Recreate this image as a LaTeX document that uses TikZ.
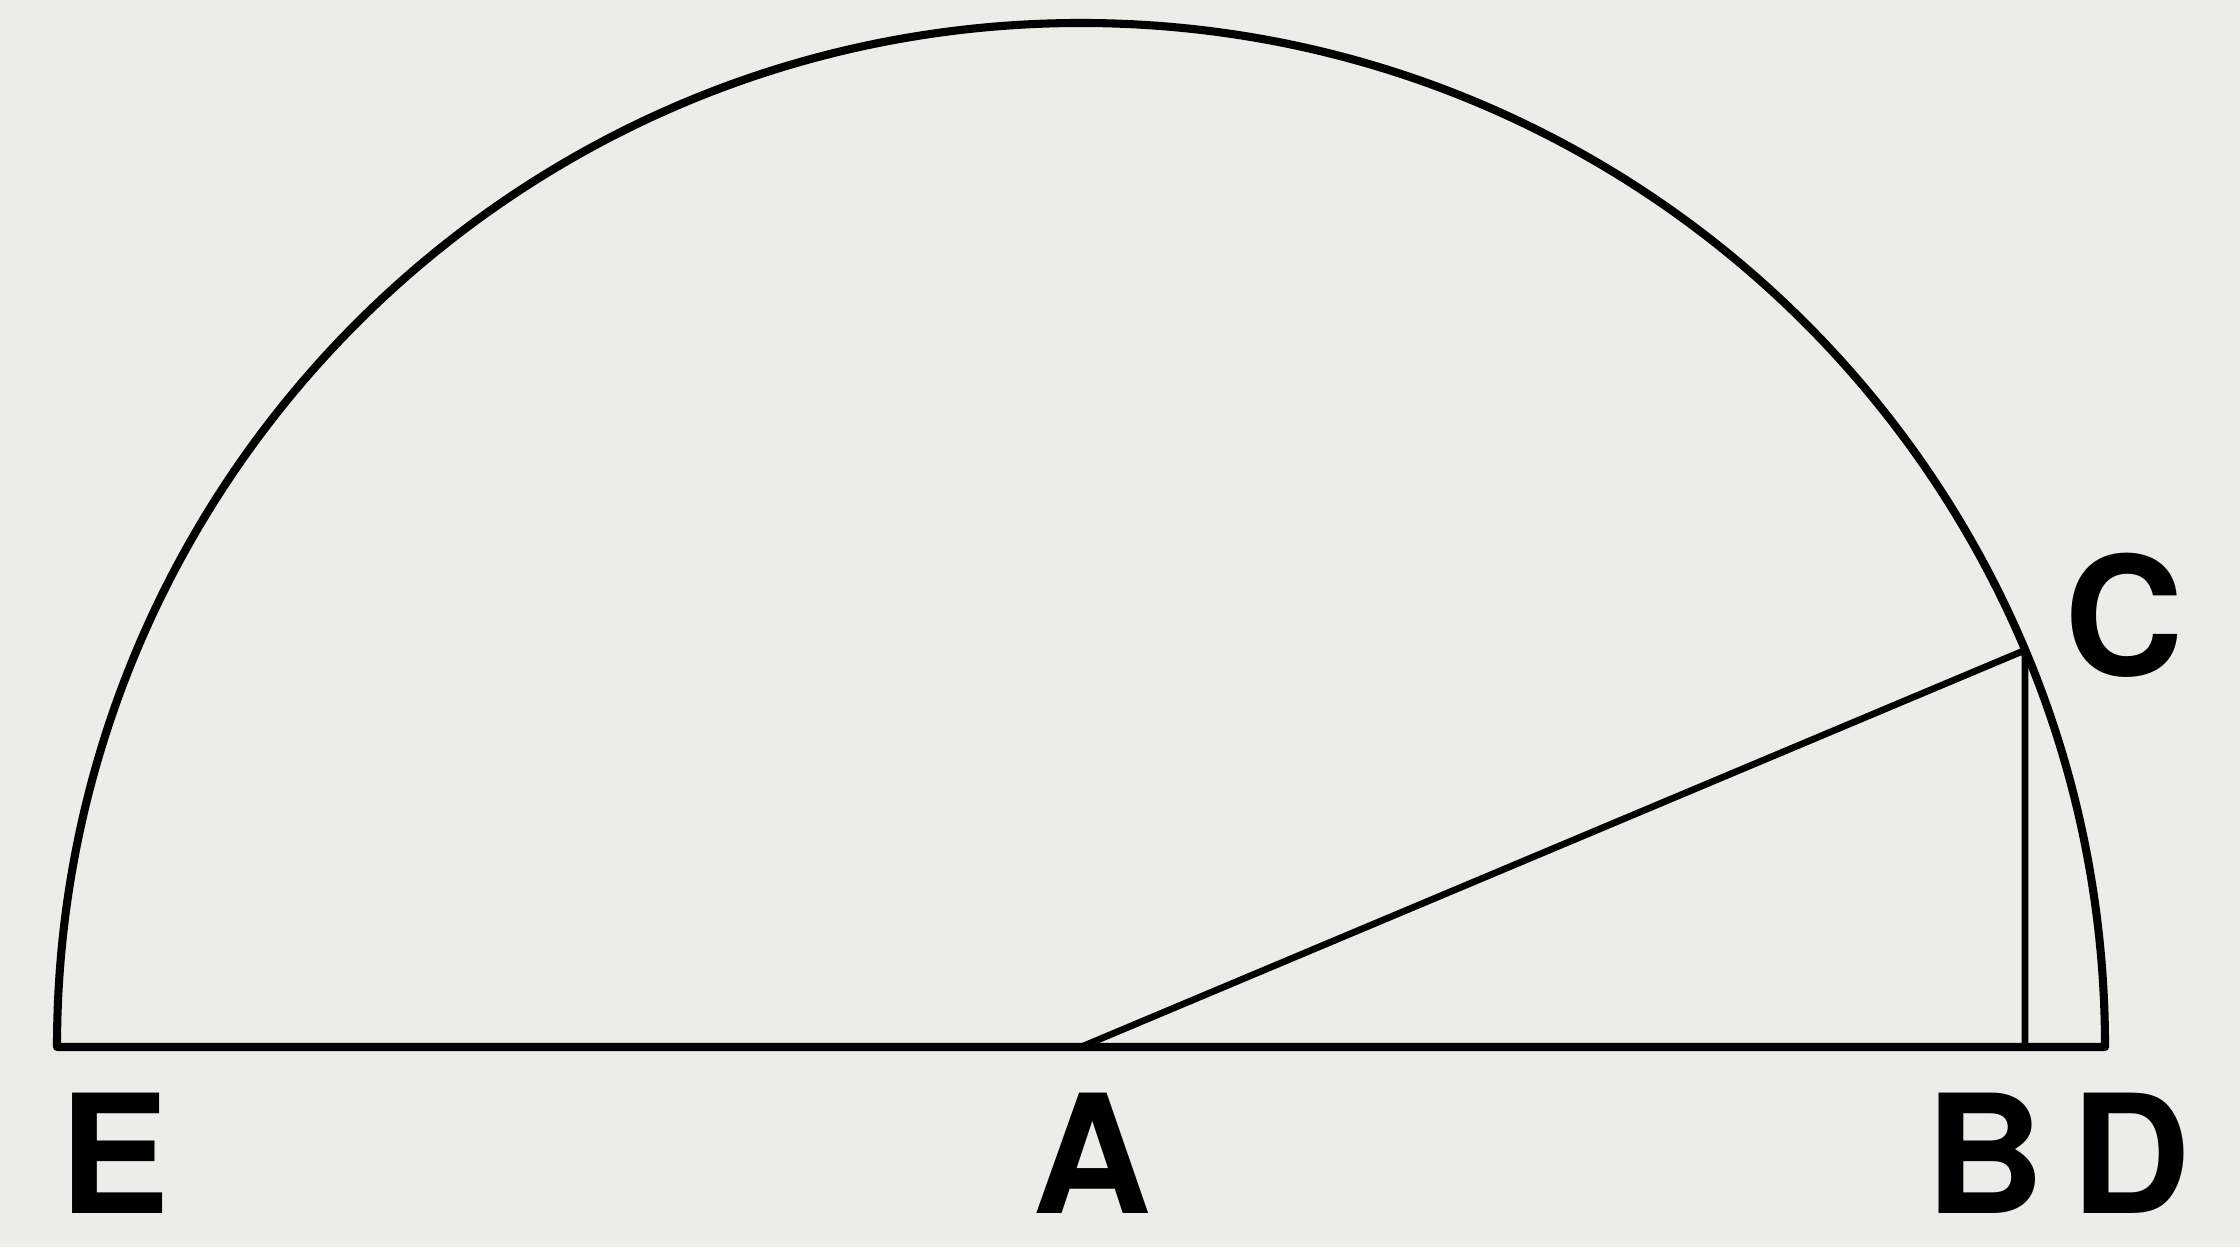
\documentclass[tikz,border=0pt]{standalone}
\usepackage{fontspec}
\setsansfont{TeX Gyre Heros}
\usetikzlibrary{positioning,calc}
\definecolor{paper}{RGB}{236,237,233}
\tikzset{lbl/.style={font=\sffamily\bfseries\fontsize{47}{47}\selectfont,inner sep=0pt}}

\begin{document}
\begin{tikzpicture}[line width=2.3pt,line cap=round,line join=round]
  \fill[paper] (0,0) rectangle (22.4,12.47);
  \useasboundingbox (0,0) rectangle (22.4,12.47);
  \coordinate (A) at (10.81,2.0);
  \coordinate (E) at ($(A)+(180:10.24)$);
  \coordinate (D) at ($(A)+(0:10.24)$);
  \coordinate (C) at ($(A)+(22.8:10.24)$);
  \coordinate (B) at (C |- A);
  \draw (D) arc[start angle=0,end angle=180,radius=10.24] -- cycle;
  \draw[line width=1.9pt] (A)--(C)--(B);
  \node[lbl] (lE) at (1.15,0.94) {E};
  \node[lbl] (lA) at (10.92,0.94) {A};
  \node[lbl] (lB) at (19.85,0.94) {B};
  \node[lbl] (lD) at (21.31,0.94) {D};
  \node[lbl] (lC) at (21.24,6.32) {C};
\end{tikzpicture}
\end{document}
